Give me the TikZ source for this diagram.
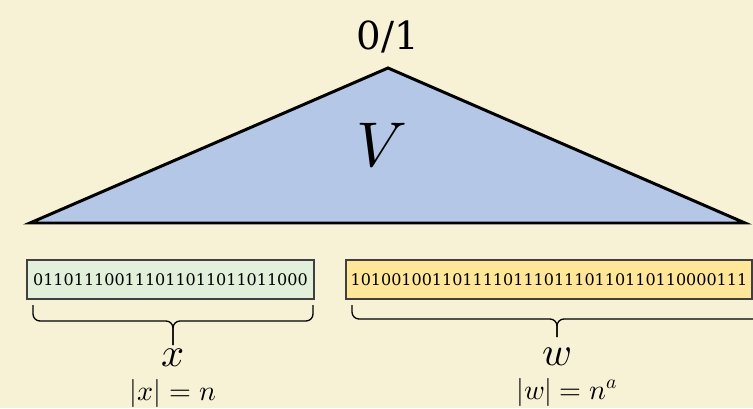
\documentclass[tikz,border=0pt]{standalone}
\usepackage{fontspec}
\usepackage{unicode-math}
\setmainfont{DejaVu Serif}
\definecolor{bgpaper}{HTML}{F7F1D6}
\definecolor{treeblue}{HTML}{B4C7E7}
\definecolor{xgreen}{HTML}{E2EFDA}
\definecolor{wgold}{HTML}{FFE699}
\definecolor{boxline}{HTML}{404040}
\begin{document}
\begin{tikzpicture}[
    bits/.style={draw=boxline,line width=0.6pt,minimum height=0.78cm,inner sep=0pt,
      font=\fontsize{9.1}{10}\selectfont},
    bracket/.style={line width=0.75pt,rounded corners=0.14cm},
    varname/.style={font=\fontsize{23}{26}\selectfont},
    lenname/.style={font=\fontsize{16}{18}\selectfont}]
  \fill[bgpaper] (0,0) rectangle (15.06,8.16);
  \clip (0,0) rectangle (15.06,8.16);
  % the circuit V
  \draw[fill=treeblue,line width=1.7pt,line join=miter] (0.60,3.70) -- (7.76,6.80) -- (14.90,3.70) -- cycle;
  \node (root) at (7.76,7.42) {\fontsize{22}{25}\selectfont 0/1};
  \node (circ) at (7.64,5.24) {\fontsize{36}{40}\selectfont $V$};
  % the two inputs
  \node[bits,fill=xgreen,minimum width=5.74cm] (bitsx) at (3.41,2.57) {011011100111011011011011000};
  \node[bits,fill=wgold,minimum width=8.12cm] (bitsw) at (10.98,2.57) {101001001101111011101110110110110000111};
  \draw[bracket] (0.66,2.06) -- (0.66,1.74) -- (3.46,1.74) -- (3.46,1.26);
  \draw[bracket] (6.26,2.06) -- (6.26,1.74) -- (3.46,1.74) -- (3.46,1.26);
  \draw[bracket] (7.04,2.06) -- (7.04,1.78) -- (11.14,1.78) -- (11.14,1.42);
  \draw[bracket] (15.50,2.06) -- (15.50,1.78) -- (11.14,1.78) -- (11.14,1.42);
  \node[varname] (namex) at (3.46,1.00) {$x$};
  \node[lenname] (lenx) at (3.46,0.30) {$|x| = n$};
  \node[varname] (namew) at (11.14,1.02) {$w$};
  \node[lenname] (lenw) at (11.34,0.32) {$|w| = n^a$};
\end{tikzpicture}
\end{document}
